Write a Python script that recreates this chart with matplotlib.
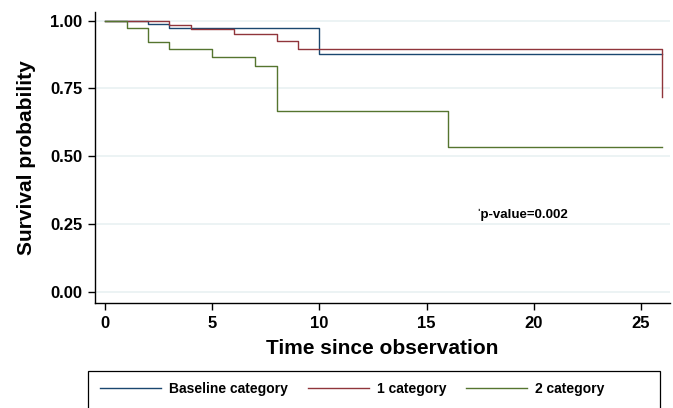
import matplotlib
matplotlib.use("Agg")
import matplotlib.pyplot as plt
from matplotlib.patches import Rectangle

plt.rcParams['font.family'] = ['Liberation Sans', 'DejaVu Sans']
plt.rcParams['font.weight'] = 'bold'

# Kaplan-Meier step data
t_base = [0, 2, 3, 10, 26]
s_base = [1.0, 0.988, 0.973, 0.877, 0.877]

t_cat1 = [0, 3, 4, 6, 8, 9, 26]
s_cat1 = [1.0, 0.983, 0.968, 0.951, 0.924, 0.897, 0.717]

t_cat2 = [0, 1, 2, 3, 5, 7, 8, 16, 26]
s_cat2 = [1.0, 0.973, 0.92, 0.895, 0.865, 0.832, 0.667, 0.533, 0.533]

labels = ["Baseline category", "1 category", "2 category"]
colors = ["#1a476f", "#90353b", "#55752f"]

xticks = [0, 5, 10, 15, 20, 25]
yticks = [0.0, 0.25, 0.5, 0.75, 1.0]

W, H = 673, 408
fig = plt.figure(figsize=(W/100, H/100), dpi=100)
ax = fig.add_axes([95/W, 1 - 303.3/H, (670-95)/W, (303.3-11.7)/H])

ax.set_xlim(-0.47, 26.35)
ax.set_ylim(-0.0417, 1.033)

# light horizontal grid
for y in yticks:
    ax.axhline(y, color="#eaf2f3", lw=1.3, zorder=0)

lines = []
for t, s, c, lab in zip([t_base, t_cat1, t_cat2], [s_base, s_cat1, s_cat2], colors, labels):
    ln, = ax.step(t, s, where='post', color=c, lw=1.0, label=lab)
    lines.append(ln)

ax.set_xticks(xticks)
ax.set_yticks(yticks)
ax.set_yticklabels(["%.2f" % v for v in yticks])
ax.tick_params(direction='out', length=5, width=1, labelsize=12, pad=4)
for lab in ax.get_xticklabels() + ax.get_yticklabels():
    lab.set_fontweight('bold')

ax.spines['top'].set_visible(False)
ax.spines['right'].set_visible(False)
ax.spines['left'].set_linewidth(1)
ax.spines['bottom'].set_linewidth(1)

ax.set_xlabel("Time since observation", fontsize=15, fontweight='bold', labelpad=6)
ax.set_ylabel("Survival probability", fontsize=15, fontweight='bold', labelpad=10)

ax.text(17.3, 0.285, "\u02c8p-value=0.002", fontsize=9.5, fontweight='bold', va='center')

# legend box running off the bottom of the figure
fig.patches.append(Rectangle((88/W, -0.05), (660-88)/W, (1 - 370.7/H) + 0.05,
                             transform=fig.transFigure, fill=False, ec='black', lw=0.9))
fig.legend(handles=lines, loc='center left', bbox_to_anchor=(100/W, 1 - 389/H),
           ncol=3, frameon=False, borderpad=0, borderaxespad=0,
           handlelength=4.4, handletextpad=0.55, columnspacing=1.45,
           prop={'size': 10, 'weight': 'bold'})

fig.savefig("out.png", dpi=100)
